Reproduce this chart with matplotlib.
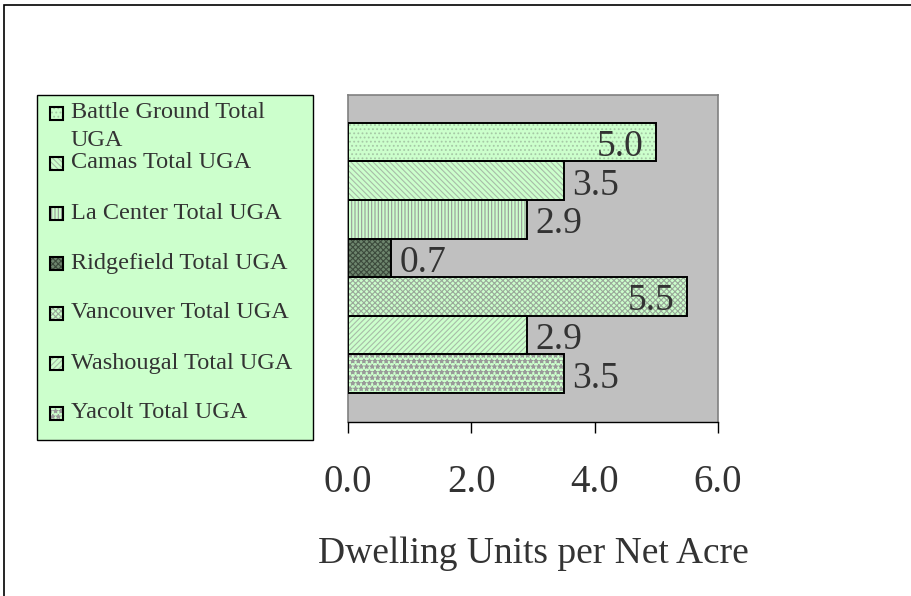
import matplotlib
matplotlib.use("Agg")
import matplotlib.pyplot as plt
from matplotlib.patches import Rectangle

# Density values per urban growth area
areas = [
    "Battle Ground Total UGA",
    "Camas Total UGA",
    "La Center Total UGA",
    "Ridgefield Total UGA",
    "Vancouver Total UGA",
    "Washougal Total UGA",
    "Yacolt Total UGA",
]
legend_labels = [
    "Battle Ground Total\nUGA",
    "Camas Total UGA",
    "La Center Total UGA",
    "Ridgefield Total UGA",
    "Vancouver Total UGA",
    "Washougal Total UGA",
    "Yacolt Total UGA",
]
density = [5.0, 3.5, 2.9, 0.7, 5.5, 2.9, 3.5]
x_ticks = [0.0, 2.0, 4.0, 6.0]
x_label = "Dwelling Units per Net Acre"

# Fill styles: (face colour, hatch colour, hatch pattern)
styles = [
    ("#CCFFCC", "#A6C8A6", "...."),
    ("#CCFFCC", "#A8BCA8", "\\\\\\\\\\\\"),
    ("#CCFFCC", "#999999", "|||||"),
    ("#6E866E", "#3C4A3C", "xxxxxx"),
    ("#CCFFCC", "#9AA89A", "xxxxxx"),
    ("#CCFFCC", "#A8BCA8", "//////"),
    ("#CCFFCC", "#999999", "***"),
]

plt.rcParams["font.family"] = ["Liberation Serif", "DejaVu Serif"]
plt.rcParams["hatch.linewidth"] = 0.8
TEXT = "#333333"

W, H = 911, 596
fig = plt.figure(figsize=(W / 100, H / 100), dpi=100)
fig.patch.set_facecolor("white")


def fx(px):
    return px / W


def fy(py):
    return 1 - py / H


# Outer chart frame
fig.add_artist(Rectangle((fx(4), fy(620)), fx(960) - fx(4), fy(5) - fy(620),
                         transform=fig.transFigure, fill=False,
                         edgecolor="black", linewidth=1.2))

# Plot area
ax = fig.add_axes([fx(348), fy(422), fx(718) - fx(348), fy(95) - fy(422)])
ax.set_facecolor("#C0C0C0")

ypos = list(range(len(areas)))
for i, (v, (fc, hc, hatch)) in enumerate(zip(density, styles)):
    ax.barh(i, v, height=1.0, color=fc, edgecolor=hc, hatch=hatch,
            linewidth=0, zorder=2)
ax.barh(ypos, density, height=1.0, fill=False, edgecolor="black",
        linewidth=1.4, zorder=3)

ax.set_xlim(0, 6.0)
ax.set_ylim(7.25, -1.22)

for i, v in enumerate(density):
    inside = v >= 4.5
    ax.annotate(f"{v:.1f}", xy=(v, i), xytext=(-9 if inside else 6, -10),
                textcoords="offset points", ha="right" if inside else "left",
                va="baseline", fontsize=27, color=TEXT, zorder=4)

ax.set_xticks(x_ticks)
ax.set_xticklabels([f"{t:.1f}" for t in x_ticks], fontsize=28, color=TEXT)
ax.tick_params(axis="x", direction="out", length=8, width=1.0,
               color="black", pad=22)
ax.set_yticks([])
ax.set_xlabel(x_label, fontsize=27, color=TEXT, labelpad=26)

for side in ("top", "right", "left"):
    ax.spines[side].set_color("#808080")
    ax.spines[side].set_linewidth(1.2)
ax.spines["bottom"].set_color("black")
ax.spines["bottom"].set_linewidth(1.0)

# Legend panel
fig.add_artist(Rectangle((fx(37), fy(440)), fx(313) - fx(37), fy(95) - fy(440),
                         transform=fig.transFigure, facecolor="#CCFFCC",
                         edgecolor="black", linewidth=1.0, zorder=1))
for k, (lab, (fc, hc, hatch)) in enumerate(zip(legend_labels, styles)):
    yc = 113 + 50 * k
    fig.add_artist(Rectangle((fx(50), fy(yc + 6.5)), fx(13), 13 / H,
                             transform=fig.transFigure, facecolor=fc,
                             edgecolor=hc, hatch=hatch, linewidth=0, zorder=2))
    fig.add_artist(Rectangle((fx(50), fy(yc + 6.5)), fx(13), 13 / H,
                             transform=fig.transFigure, fill=False,
                             edgecolor="black", linewidth=1.5, zorder=3))
    for j, line in enumerate(lab.split("\n")):
        fig.text(fx(71), fy(yc + 28 * j), line, fontsize=17.5, color=TEXT,
                 ha="left", va="center", zorder=3)

fig.savefig("out.png", dpi=100)
